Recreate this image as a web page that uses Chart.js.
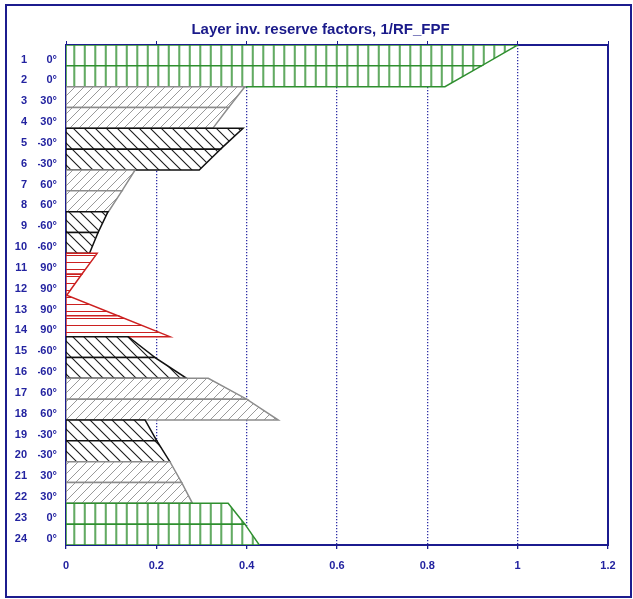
<!DOCTYPE html>
<html>
<head>
<meta charset="utf-8">
<script src="https://cdn.jsdelivr.net/npm/chart.js@4.4.1/dist/chart.umd.min.js"></script>
<style>
  body { margin: 0; background: #fff; }
  #wrap { position: relative; width: 633px; height: 599px; }
  #rf-chart { display: block; }
  #frame { position: absolute; left: 5px; top: 4px; width: 623px; height: 590px; border: 2px solid #1c1c8e; pointer-events: none; }
</style>
</head>
<body>
<div id="wrap">
  <canvas id="rf-chart" width="633" height="599"></canvas>
  <div id="frame"></div>
</div>
<script>
// Layer data (top to bottom of the laminate)
const layerNums = ['1','2','3','4','5','6','7','8','9','10','11','12','13','14','15','16','17','18','19','20','21','22','23','24'];
const plyAngles = ['0°','0°','30°','30°','-30°','-30°','60°','60°','-60°','-60°','90°','90°','90°','90°','-60°','-60°','60°','60°','-30°','-30°','30°','30°','0°','0°'];
// inverse reserve factor at top and bottom face of each layer
const rfTop    = [1.000, 0.920, 0.396, 0.360, 0.392, 0.342, 0.153, 0.124, 0.093, 0.071, 0.069, 0.035, 0.002, 0.115, 0.138, 0.197, 0.315, 0.400, 0.175, 0.201, 0.230, 0.256, 0.359, 0.396];
const rfBottom = [0.920, 0.839, 0.360, 0.325, 0.342, 0.295, 0.124, 0.094, 0.071, 0.052, 0.035, 0.002, 0.115, 0.230, 0.197, 0.267, 0.400, 0.470, 0.201, 0.230, 0.256, 0.280, 0.396, 0.428];
const xTicks = [0, 0.2, 0.4, 0.6, 0.8, 1, 1.2];

const NAVY = '#1b1b8f';
const LABEL = '#2323a0';
const LABEL_SHIFT = 0.7; // layer labels sit a bit below the layer middle

// Build a hatch pattern on a small tile
function makeHatch(kind, lineColor, size, lineWidth) {
  const c = document.createElement('canvas');
  c.width = size; c.height = size;
  const g = c.getContext('2d');
  g.fillStyle = '#fff';
  g.fillRect(0, 0, size, size);
  g.strokeStyle = lineColor;
  g.lineWidth = lineWidth;
  g.beginPath();
  if (kind === 'v') { g.moveTo(size / 2, 0); g.lineTo(size / 2, size); }
  if (kind === 'h') { g.moveTo(0, size / 2); g.lineTo(size, size / 2); }
  if (kind === '/') {
    for (const o of [-size, 0, size]) { g.moveTo(o - 1, size + 1); g.lineTo(o + size + 1, -1); }
  }
  if (kind === '\\') {
    for (const o of [-size, 0, size]) { g.moveTo(o - 1, -1); g.lineTo(o + size + 1, size + 1); }
  }
  g.stroke();
  return g.createPattern(c, 'repeat');
}

const greenPattern = makeHatch('v', '#2f8f2f', 10, 1.5);
greenPattern.setTransform(new DOMMatrix().translate(69, 0).scale(1.05, 1));
const looks = {
  zero: { pattern: greenPattern, color: '#2f8f2f' },
  ninety: { pattern: makeHatch('h', '#cc2020', 7, 1), color: '#cc2020' },
  plus: { pattern: makeHatch('/', '#9a9a9a', 9, 1), color: '#8c8c8c' },
  minus: { pattern: makeHatch('\\', '#1a1a1a', 11, 1.1), color: '#111111' }
};

function plyLook(angle) {
  const a = parseFloat(angle);
  if (a === 0) return looks.zero;
  if (Math.abs(a) === 90) return looks.ninety;
  return a > 0 ? looks.plus : looks.minus;
}

// One closed polygon per layer: axis -> top value -> bottom value -> axis
const datasets = layerNums.map((num, i) => {
  const look = plyLook(plyAngles[i]);
  return {
    label: 'Layer ' + num,
    data: [
      {x: 0, y: i}, {x: rfTop[i], y: i},
      {x: rfBottom[i], y: i + 1}, {x: 0, y: i + 1}, {x: 0, y: i}
    ],
    showLine: true,
    fill: 'shape',
    backgroundColor: look.pattern,
    borderColor: look.color,
    borderWidth: 1.5,
    pointRadius: 0,
    order: layerNums.length - i
  };
});

const tickFont = {family: 'Liberation Sans', size: 11, weight: 'bold'};
const layerTicks = scale => { scale.ticks = layerNums.map((_, i) => ({value: i + LABEL_SHIFT})); };
const layerIndex = v => Math.round(v - LABEL_SHIFT);

new Chart(document.getElementById('rf-chart'), {
  type: 'scatter',
  data: { datasets: datasets },
  options: {
    responsive: false,
    animation: false,
    devicePixelRatio: 1,
    layout: { padding: {left: 8, right: 0, top: 0, bottom: 0}, autoPadding: false },
    plugins: {
      legend: { display: false },
      tooltip: { enabled: false },
      title: {
        display: true,
        text: 'Layer inv. reserve factors, 1/RF_FPF',
        color: '#1a1a8a',
        font: {family: 'Liberation Sans', size: 15, weight: 'bold'},
        padding: {top: 20.4, bottom: 0}
      }
    },
    scales: {
      x: {
        type: 'linear', position: 'bottom', min: 0, max: 1.2,
        afterBuildTicks: scale => { scale.ticks = xTicks.map(v => ({value: v})); },
        ticks: { color: LABEL, font: tickFont, padding: 10, callback: v => String(v) },
        grid: {
          color: ctx => (ctx.tick && (ctx.tick.value === 0 || ctx.tick.value === 1.2)) ? 'rgba(0,0,0,0)' : '#2e2ea6',
          tickColor: NAVY, tickLength: 4, lineWidth: 1.3
        },
        border: { color: NAVY, width: 2, dash: [1.3, 1.7] },
        afterFit: scale => { scale.height = 54; }
      },
      xTop: {
        type: 'linear', position: 'top', min: 0, max: 1.2,
        afterBuildTicks: scale => { scale.ticks = xTicks.map(v => ({value: v})); },
        ticks: { display: false },
        grid: { drawOnChartArea: false, tickLength: 4, tickColor: NAVY, color: NAVY },
        border: { color: NAVY, width: 2 },
        afterFit: scale => { scale.height = 6.6; }
      },
      y: {
        type: 'linear', position: 'left', min: 0, max: 24, reverse: true,
        afterBuildTicks: layerTicks,
        ticks: { callback: v => plyAngles[layerIndex(v)], color: LABEL, font: tickFont, padding: 9, autoSkip: false },
        grid: { display: false, drawTicks: false },
        border: { color: NAVY, width: 2 },
        afterFit: scale => { scale.width = 28; }
      },
      yNum: {
        type: 'linear', position: 'left', min: 0, max: 24, reverse: true, weight: 1,
        afterBuildTicks: layerTicks,
        ticks: { callback: v => layerNums[layerIndex(v)], color: LABEL, font: tickFont, padding: 11, autoSkip: false },
        grid: { display: false, drawTicks: false },
        border: { display: false },
        afterFit: scale => { scale.width = 30; }
      },
      yRight: {
        type: 'linear', position: 'right', min: 0, max: 24,
        ticks: { display: false },
        grid: { display: false, drawTicks: false },
        border: { color: NAVY, width: 2 },
        afterFit: scale => { scale.width = 25; }
      }
    }
  }
});
</script>
</body>
</html>
